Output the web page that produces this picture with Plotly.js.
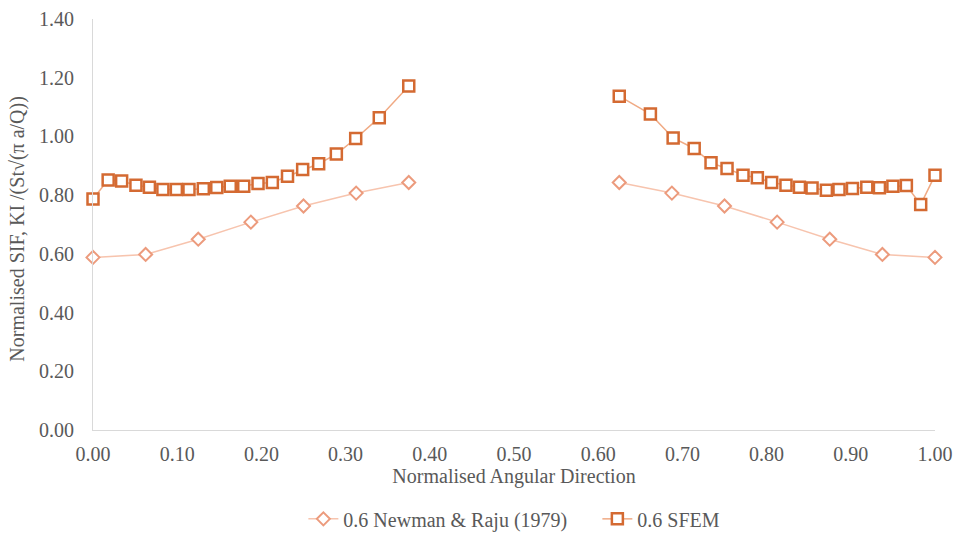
<!DOCTYPE html>
<html>
<head>
<meta charset="utf-8">
<script src="https://cdn.plot.ly/plotly-3.0.1.min.js"></script>
<style>html,body{margin:0;padding:0;background:#fff;}#chart{width:957px;height:536px;}</style>
</head>
<body>
<div id="chart"></div>
<script>
// Newman & Raju (1979)
const newmanX = [0, 0.0625, 0.125, 0.1875, 0.25, 0.3125, 0.375, null, 0.625, 0.6875, 0.75, 0.8125, 0.875, 0.9375, 1.0];
const newmanY = [0.588, 0.598, 0.650, 0.708, 0.763, 0.807, 0.843, null, 0.843, 0.807, 0.763, 0.708, 0.650, 0.598, 0.588];
// SFEM
const sfemX = [0.000, 0.018, 0.034, 0.051, 0.067, 0.083, 0.099, 0.114, 0.131, 0.147, 0.163, 0.179, 0.196, 0.213, 0.231, 0.249, 0.268, 0.289, 0.312, 0.340, 0.375,
  null,
  0.625, 0.662, 0.689, 0.714, 0.734, 0.753, 0.772, 0.789, 0.806, 0.823, 0.839, 0.854, 0.871, 0.886, 0.902, 0.919, 0.934, 0.950, 0.966, 0.983, 1.000];
const sfemY = [0.787, 0.852, 0.848, 0.834, 0.827, 0.819, 0.819, 0.819, 0.822, 0.826, 0.830, 0.830, 0.840, 0.843, 0.864, 0.887, 0.907, 0.940, 0.993, 1.064, 1.172,
  null,
  1.137, 1.076, 0.995, 0.959, 0.910, 0.891, 0.868, 0.859, 0.843, 0.834, 0.827, 0.824, 0.817, 0.819, 0.823, 0.827, 0.825, 0.830, 0.833, 0.768, 0.868];
const xTicks = [0, 0.1, 0.2, 0.3, 0.4, 0.5, 0.6, 0.7, 0.8, 0.9, 1.0];
const yTicks = [0, 0.2, 0.4, 0.6, 0.8, 1.0, 1.2, 1.4];
const xTitle = 'Normalised Angular Direction';
const yTitle = 'Normalised SIF, KI /(St√(π a/Q))';

function mkFont() { return {family: 'Liberation Serif', size: 20, color: '#595959'}; }

const traces = [
  {
    x: newmanX, y: newmanY, type: 'scatter', mode: 'lines+markers',
    name: '0.6 Newman & Raju (1979)', connectgaps: false, cliponaxis: false,
    line: {color: '#F7C4AE', width: 1.5},
    marker: {symbol: 'diamond', size: 10, color: '#ffffff', line: {color: '#EC9B7D', width: 2}}
  },
  {
    x: sfemX, y: sfemY, type: 'scatter', mode: 'lines+markers',
    name: '0.6 SFEM', connectgaps: false, cliponaxis: false,
    line: {color: '#F0AA84', width: 1.5},
    marker: {symbol: 'square', size: 11, color: '#ffffff', line: {color: '#D46A32', width: 2.5}}
  }
];

const layout = {
  width: 957, height: 536,
  margin: {l: 93, r: 22, t: 19, b: 106, autoexpand: false},
  paper_bgcolor: '#ffffff', plot_bgcolor: '#ffffff',
  font: mkFont(),
  showlegend: true,
  legend: {orientation: 'h', x: 0.317, xref: 'container', xanchor: 'left', y: 0.032, yref: 'container', yanchor: 'middle',
           font: mkFont(), bgcolor: 'rgba(0,0,0,0)', itemwidth: 30, entrywidth: 249},
  xaxis: {
    range: [0, 1], tickvals: xTicks, ticktext: xTicks.map(v => v.toFixed(2)),
    showgrid: false, zeroline: false, showline: true, linecolor: '#D9D9D9', linewidth: 1,
    ticks: '', tickfont: mkFont(), ticklabelstandoff: 6, automargin: false,
    title: {text: xTitle, font: mkFont(), standoff: 1}
  },
  yaxis: {
    range: [0, 1.4], tickvals: yTicks, ticktext: yTicks.map(v => v.toFixed(2)),
    showgrid: false, zeroline: false, showline: true, linecolor: '#D9D9D9', linewidth: 1,
    ticks: '', tickfont: mkFont(), ticklabelstandoff: 14, automargin: false
  },
  annotations: [{
    text: yTitle, xref: 'paper', yref: 'paper', x: -0.089, y: 0.49,
    xanchor: 'center', yanchor: 'middle', textangle: -90, showarrow: false, font: mkFont()
  }]
};

Plotly.newPlot('chart', traces, layout, {displayModeBar: false, staticPlot: true});
</script>
</body>
</html>
